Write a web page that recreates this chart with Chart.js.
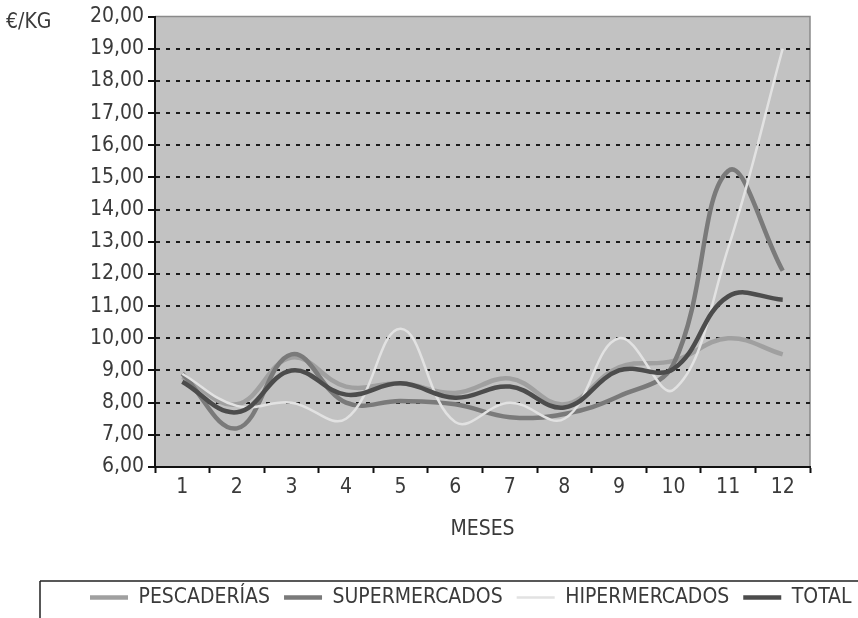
<!DOCTYPE html>
<html>
<head>
<meta charset="utf-8">
<script src="https://cdn.jsdelivr.net/npm/chart.js@4/dist/chart.umd.min.js"></script>
<style>
html,body{margin:0;padding:0;background:#fff;overflow:hidden;width:858px;height:618px;}
#wrap{width:900px;height:618px;}
</style>
</head>
<body>
<div id="wrap"><canvas id="c" width="900" height="618"></canvas></div>
<script>
const months = ['1','2','3','4','5','6','7','8','9','10','11','12'];
const pescaderias   = [8.8, 7.95, 9.4, 8.5, 8.6, 8.3, 8.75, 7.95, 9.1, 9.3, 10.0, 9.5];
const supermercados = [8.9, 7.2, 9.5, 8.0, 8.05, 7.95, 7.55, 7.65, 8.2, 9.2, 15.2, 12.1];
const hipermercados = [8.9, 7.9, 8.0, 7.5, 10.3, 7.4, 8.0, 7.5, 10.0, 8.4, 12.8, 19.0];
const total         = [8.65, 7.7, 9.0, 8.25, 8.6, 8.15, 8.5, 7.85, 9.0, 9.05, 11.3, 11.2];
const seriesNames = ['PESCADERÍAS', 'SUPERMERCADOS', 'HIPERMERCADOS', 'TOTAL'];
const yUnit = '€/KG';
const xTitle = 'MESES';

const FONT = "'DejaVu Sans Condensed', 'DejaVu Sans', sans-serif";
const TXT = '#3a3a3a';
const FS = 21;

const bgPlugin = {
  id: 'bg',
  beforeDraw(chart) {
    const {ctx, chartArea: a} = chart;
    ctx.save();
    ctx.fillStyle = '#c2c2c2';
    ctx.fillRect(a.left, a.top, a.right - a.left, a.bottom - a.top);
    ctx.strokeStyle = '#8a8a8a';
    ctx.lineWidth = 1.5;
    ctx.beginPath();
    ctx.moveTo(a.left, a.top);
    ctx.lineTo(a.right, a.top);
    ctx.lineTo(a.right, a.bottom);
    ctx.stroke();
    ctx.restore();
  },
  afterDraw(chart) {
    const {ctx} = chart;
    const lg = chart.legend;
    ctx.save();
    ctx.strokeStyle = '#222';
    ctx.lineWidth = 1.5;
    ctx.beginPath();
    ctx.moveTo(40, lg.top + 8);
    ctx.lineTo(910, lg.top + 8);
    ctx.moveTo(40, lg.top + 8);
    ctx.lineTo(40, 640);
    ctx.stroke();
    ctx.fillStyle = TXT;
    ctx.font = FS + 'px ' + FONT;
    ctx.textBaseline = 'middle';
    ctx.textAlign = 'left';
    ctx.fillText(yUnit, 6, chart.chartArea.top + 6);
    ctx.restore();
  }
};

const mk = (label, data, color, width, order) => ({
  label, data, borderColor: color, backgroundColor: color, borderWidth: width,
  pointRadius: 0, tension: 0.4, fill: false, order
});

new Chart(document.getElementById('c'), {
  type: 'line',
  data: {
    labels: months,
    datasets: [
      mk(seriesNames[0], pescaderias, '#a0a0a0', 4.5, 4),
      mk(seriesNames[1], supermercados, '#7a7a7a', 4.5, 3),
      mk(seriesNames[2], hipermercados, '#e2e2e2', 2.5, 2),
      mk(seriesNames[3], total, '#4c4c4c', 4.5, 1)
    ]
  },
  options: {
    responsive: false,
    animation: false,
    devicePixelRatio: 1,
    layout: {padding: {left: 76, right: 0, top: 4, bottom: 0}},
    plugins: {
      tooltip: {enabled: false},
      legend: {
        position: 'bottom',
        align: 'start',
        labels: {
          usePointStyle: true,
          pointStyle: 'line',
          pointStyleWidth: 38,
          boxHeight: FS,
          padding: 14,
          color: TXT,
          font: {family: FONT, size: FS},
          sort: (a, b) => a.datasetIndex - b.datasetIndex
        }
      }
    },
    scales: {
      x: {
        type: 'category',
        offset: true,
        grid: {offset: true, drawOnChartArea: false, drawTicks: true, tickLength: 6, tickColor: '#111', tickWidth: 2, color: '#111'},
        border: {display: true, color: '#111', width: 2},
        ticks: {color: TXT, font: {family: FONT, size: FS}, padding: 2, maxRotation: 0},
        title: {display: true, text: xTitle, color: TXT, font: {family: FONT, size: FS}, padding: {top: 4, bottom: 31}},
        afterFit(s) { s.height = 106; }
      },
      y: {
        type: 'linear',
        min: 6, max: 20,
        grid: {
          color: (c) => (c.tick && (c.tick.value === 20 || c.tick.value === 6)) ? 'rgba(0,0,0,0)' : '#1a1a1a',
          lineWidth: 2, tickLength: 7, tickColor: '#111', tickWidth: 2
        },
        border: {display: true, color: '#111', width: 2, dash: [4, 6]},
        ticks: {
          stepSize: 1, color: TXT, font: {family: FONT, size: FS}, padding: 4,
          callback: (v) => v.toFixed(2).replace('.', ',')
        },
        afterFit(s) { s.width = 79; }
      },
      y2: {
        type: 'linear',
        position: 'right',
        display: true,
        grid: {display: false, drawTicks: false},
        border: {display: false},
        ticks: {display: false},
        afterFit(s) { s.width = 90; }
      }
    }
  },
  plugins: [bgPlugin]
});
</script>
</body>
</html>
